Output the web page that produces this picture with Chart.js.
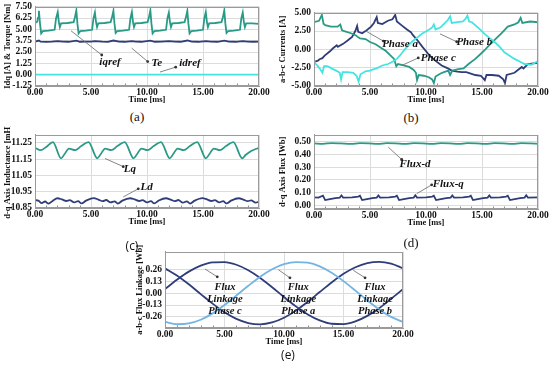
<!DOCTYPE html>
<html>
<head>
<meta charset="utf-8">
<script src="https://cdn.jsdelivr.net/npm/chart.js@4.4.1/dist/chart.umd.min.js"></script>
<style>
  body { margin: 0; background: #fff; }
  #wrap { position: relative; width: 550px; height: 370px; overflow: hidden; background: #fff; }
  #wrap canvas { position: absolute; }
  .cap { position: absolute; font: 13px "Liberation Serif", serif; color: #111; transform: translateX(-50%); white-space: nowrap; }
  .cap.sans { font: 12px "Open Sans", sans-serif; }
</style>
</head>
<body>
<div id="wrap">
  <canvas id="chA"></canvas>
  <canvas id="chB"></canvas>
  <canvas id="chC"></canvas>
  <canvas id="chD"></canvas>
  <canvas id="chE"></canvas>
  <div class="cap" style="left:137px;top:109px">(a)</div>
  <div class="cap" style="left:411px;top:110px">(b)</div>
  <div class="cap sans" style="left:132px;top:237px">(c)</div>
  <div class="cap" style="left:411px;top:235px">(d)</div>
  <div class="cap sans" style="left:288px;top:346px">(e)</div>
</div>
<script>
// axis ticks
const timeMajor = [0, 5, 10, 15, 20];
const timeMinor = [1, 2, 3, 4, 6, 7, 8, 9, 11, 12, 13, 14, 16, 17, 18, 19];
const ticksA = [-1.25, 0, 1.25, 2.5, 3.75, 5, 6.25, 7.5];
const ticksB = [-5, -2.5, 0, 2.5, 5];
const ticksC = [10.85, 10.95, 11.05, 11.15, 11.25];
const ticksD = [0, 0.1, 0.2, 0.3, 0.4, 0.5];
const ticksE = [-0.26, -0.13, 0, 0.13, 0.26];

// (a) torque and dq currents
const teT = [0.00,0.20,0.27,0.35,0.45,0.55,0.70,1.20,1.75,
  1.88,2.03,2.13,2.22,2.33,2.90,3.45,
  3.56,3.69,3.79,3.89,4.04,4.55,5.10,
  5.22,5.35,5.45,5.54,5.65,6.20,6.75,
  6.87,7.00,7.10,7.20,7.35,7.85,8.40,
  8.52,8.65,8.75,8.84,8.95,9.50,10.05,
  10.17,10.30,10.40,10.50,10.65,11.15,11.70,
  11.82,11.95,12.05,12.14,12.25,12.80,13.35,
  13.47,13.60,13.70,13.80,13.95,14.45,15.00,
  15.12,15.25,15.35,15.44,15.55,16.10,16.65,
  16.77,16.90,17.00,17.10,17.25,17.75,18.30,
  18.42,18.55,18.65,18.74,18.85,19.40,20.00];
const teV = [5.70,5.85,6.30,7.05,5.60,4.55,4.80,4.85,4.95,
  6.20,6.90,5.80,5.25,5.65,5.70,5.80,
  6.30,7.10,5.60,4.55,4.80,4.85,4.95,
  6.20,6.85,5.80,5.25,5.65,5.70,5.80,
  6.30,7.05,5.60,4.60,4.80,4.85,4.95,
  6.20,6.90,5.80,5.25,5.65,5.70,5.80,
  6.30,7.10,5.60,4.55,4.80,4.85,4.95,
  6.20,6.85,5.80,5.25,5.65,5.70,5.80,
  6.30,7.05,5.60,4.55,4.80,4.85,4.95,
  6.20,6.90,5.80,5.25,5.65,5.70,5.80,
  6.30,7.10,5.60,4.60,4.80,4.85,4.95,
  6.20,6.85,5.80,5.25,5.65,5.65,5.60];
const iqT = [0,0.35,0.5,1,1.5,2.03,2.5,3,3.69,4,4.5,5,5.35,6,6.5,7,7.5,8,8.65,9,
  9.5,10.3,10.7,11.3,11.95,12.5,13,13.6,14,14.6,15.25,15.7,16.3,16.9,17.3,17.9,18.55,19,19.5,20];
const iqV = [3.64,3.76,3.64,3.62,3.65,3.70,3.64,3.63,3.76,3.63,3.65,3.64,3.70,3.64,3.62,3.77,3.64,3.63,3.70,3.64,
  3.63,3.76,3.63,3.65,3.70,3.64,3.63,3.77,3.64,3.63,3.70,3.64,3.63,3.76,3.64,3.63,3.70,3.64,3.63,3.64];
const idT = [0, 5, 10, 15, 20];
const idV = [0, 0, 0, 0, 0];

// (b) phase currents
const paT = [0.00,0.35,0.50,0.75,0.95,1.40,1.70,2.03,2.13,2.60,3.00,3.40,3.69,3.85,3.95,4.30,4.70,5.10,5.35,5.60,
  5.70,6.10,6.60,7.00,7.25,7.40,7.80,8.30,8.65,8.80,9.20,9.70,10.30,10.50,10.80,11.40,11.95,12.30,12.80,13.20,
  13.60,14.00,14.40,14.90,15.25,15.40,15.90,16.50,16.90,17.05,17.20,17.90,18.55,18.70,19.10,19.60,20.00];
const paV = [-1.70,-1.55,-1.35,-1.20,-0.85,-0.30,0.15,0.55,0.35,0.75,1.20,1.70,2.50,3.20,2.40,2.20,2.60,3.10,3.60,4.40,
  3.60,3.45,3.90,4.10,4.70,3.80,3.30,2.70,2.35,2.00,1.30,0.30,-0.80,-1.10,-1.50,-2.20,-2.60,-2.90,-3.05,-3.10,
  -3.10,-3.30,-3.50,-3.60,-4.20,-3.50,-3.50,-3.60,-4.10,-4.60,-3.50,-3.20,-2.40,-2.60,-2.00,-1.90,-1.85];
const pbT = [0.00,0.10,0.35,0.55,0.75,0.90,1.20,1.70,2.10,2.30,2.42,2.55,3.00,3.50,3.80,3.98,4.15,4.60,5.00,5.35,
  5.60,6.10,6.60,6.90,7.40,7.70,8.00,8.40,8.80,9.20,9.70,10.30,10.55,10.70,10.85,11.30,11.70,11.95,12.15,12.30,
  12.80,13.30,13.55,13.70,13.85,14.10,14.70,15.30,15.80,16.20,16.60,17.00,17.50,17.90,18.40,18.80,19.40,20.00];
const pbV = [-1.40,-1.90,-2.30,-2.70,-3.20,-2.30,-2.30,-2.70,-3.00,-3.20,-4.10,-3.10,-3.10,-3.20,-3.60,-4.40,-3.40,-3.00,-2.90,-2.70,
  -2.60,-2.20,-2.00,-1.80,-1.30,-0.80,-0.20,0.50,1.10,1.60,2.20,2.70,3.00,3.40,2.70,3.00,3.60,4.00,4.50,3.60,
  3.70,3.80,4.20,4.60,3.80,3.70,2.90,2.00,1.40,0.90,0.30,-0.40,-0.90,-1.30,-1.70,-2.00,-2.10,-1.60];
const pcT = [0.00,0.45,0.70,0.85,1.00,1.50,2.10,2.35,2.50,2.70,3.30,3.75,3.90,4.10,4.60,5.00,5.50,6.00,6.40,6.80,
  7.15,7.35,7.50,8.00,8.50,8.90,9.10,9.20,9.35,9.80,10.25,10.55,10.70,10.85,11.30,11.60,12.00,12.15,12.35,12.90,
  13.35,13.80,14.40,14.90,15.30,15.80,16.20,16.75,17.05,17.30,17.90,18.25,18.45,18.60,19.30,20.00];
const pcV = [3.70,3.90,4.70,3.50,3.30,3.10,3.10,3.40,2.60,2.50,2.20,1.90,1.70,1.50,1.40,1.00,0.70,0.20,-0.20,-0.80,
  -1.30,-2.30,-2.00,-2.20,-2.40,-2.80,-3.20,-4.20,-3.50,-3.60,-3.80,-4.10,-4.60,-3.70,-3.30,-3.10,-2.90,-3.50,-2.90,-2.70,
  -2.60,-2.00,-1.30,-0.60,0.00,0.80,1.40,2.20,2.70,3.10,3.40,3.70,4.30,3.60,3.80,3.70];

// (c) inductances
const lqT = [0,0.5,1.0,1.6,2.33,2.63,3.03,3.58,4.13,4.78,5.56,5.86,6.26,6.81,7.36,8.01,8.80,9.10,9.50,10.05,
  10.60,11.25,12.03,12.33,12.73,13.28,13.83,14.48,15.26,15.56,15.96,16.51,17.06,17.71,18.50,18.80,19.30,20.00];
const lqV = [11.220,11.205,11.225,11.255,11.155,11.180,11.215,11.205,11.230,11.255,11.155,11.180,11.215,11.205,11.230,11.255,11.155,11.180,11.215,11.205,
  11.230,11.255,11.155,11.180,11.215,11.205,11.230,11.255,11.155,11.180,11.215,11.205,11.230,11.255,11.155,11.175,11.200,11.220];
const ldT = [0.00,0.30,0.60,0.90,1.20,1.60,2.00,2.40,2.80,3.10,3.50,3.85,4.15,4.55,5.25,5.65,6.05,6.35,6.75,7.10,
  7.40,7.80,8.50,8.90,9.30,9.60,10.00,10.35,10.65,11.05,11.70,12.10,12.50,12.80,13.20,13.55,13.85,14.25,14.95,15.35,
  15.75,16.05,16.45,16.80,17.10,17.50,18.20,18.60,19.00,19.30,19.70,20.00];
const ldV = [10.898,10.895,10.880,10.890,10.877,10.895,10.910,10.903,10.893,10.898,10.884,10.892,10.878,10.895,10.911,10.902,10.892,10.899,10.884,10.891,
  10.877,10.895,10.910,10.903,10.893,10.898,10.884,10.892,10.878,10.896,10.910,10.902,10.892,10.899,10.883,10.891,10.877,10.895,10.911,10.903,
  10.893,10.898,10.884,10.892,10.878,10.895,10.910,10.902,10.892,10.897,10.883,10.890];

// (d) dq flux
const fdT = [0,0.8,1.6,2.4,3.3,4.1,4.9,5.7,6.5,7.3,8.1,8.9,9.7,10.5,11.3,12.1,12.9,13.7,14.5,15.3,16.1,16.9,17.7,18.5,19.3,20];
const fdV = [0.487,0.483,0.489,0.486,0.482,0.488,0.486,0.482,0.488,0.486,0.482,0.488,0.486,0.482,0.488,0.486,0.482,0.488,0.486,0.482,0.488,0.486,0.482,0.488,0.486,0.483];
const fqT = [0.00,0.40,0.80,1.00,1.30,1.90,2.30,2.45,2.60,3.40,3.95,4.10,4.30,4.60,5.20,5.60,5.75,5.90,6.70,7.25,
  7.40,7.60,7.90,8.50,8.90,9.05,9.20,10.00,10.55,10.70,10.90,11.20,11.80,12.20,12.35,12.50,13.30,13.85,14.00,14.20,
  14.50,15.10,15.50,15.65,15.80,16.60,17.15,17.30,17.50,17.80,18.40,18.80,18.95,19.10,20.00];
const fqV = [0.062,0.060,0.075,0.040,0.045,0.055,0.060,0.076,0.060,0.062,0.068,0.074,0.040,0.045,0.055,0.060,0.077,0.060,0.062,0.068,
  0.074,0.040,0.045,0.055,0.060,0.078,0.060,0.062,0.068,0.074,0.040,0.045,0.055,0.060,0.076,0.060,0.062,0.068,0.074,0.040,
  0.045,0.055,0.060,0.077,0.060,0.062,0.068,0.074,0.040,0.045,0.055,0.060,0.078,0.060,0.062];

// (e) abc flux linkage
const flxT = [0,1,2,3,4,5,6,7,8,9,10,11,12,13,14,15,16,17,18,19,20];
const flxA = [-0.314,-0.339,-0.330,-0.290,-0.221,-0.130,-0.027,0.079,0.178,0.259,0.314,0.337,0.330,0.290,0.221,0.130,0.027,-0.079,-0.178,-0.259,-0.314];
const flxB = [0.269,0.191,0.095,-0.011,-0.115,-0.209,-0.281,-0.326,-0.340,-0.320,-0.269,-0.191,-0.095,0.011,0.115,0.209,0.281,0.326,0.340,0.320,0.269];
const flxC = [0.043,0.145,0.233,0.298,0.334,0.337,0.308,0.248,0.164,0.064,-0.043,-0.145,-0.233,-0.298,-0.334,-0.337,-0.308,-0.248,-0.164,-0.064,0.043];

const TEAL = '#2a9a86', NAVY = '#2f3d78', CYAN = '#45e4e2', LBLUE = '#74b4e2';
const tickFont = { family: '"Liberation Serif", serif', size: 9.5, weight: 'bold' };
const titleFont = { family: '"Liberation Serif", serif', size: 8.5, weight: 'bold' };

function pts(xs, ys) {
  return xs.map((t, i) => ({ x: t, y: ys[i] }));
}

function line(xs, ys, color, smooth) {
  return {
    data: pts(xs, ys), borderColor: color, borderWidth: 1.8,
    pointRadius: 0, fill: false,
    tension: smooth ? 0.4 : 0,
    cubicInterpolationMode: smooth ? 'monotone' : 'default'
  };
}

// labels with pointer lines, frame and minor ticks
function overlay(notes) {
  return {
    id: 'overlay',
    afterDatasetsDraw(chart) {
      const { ctx, chartArea: a, scales: { x, y } } = chart;
      ctx.save();
      ctx.strokeStyle = '#8c8c8c';
      ctx.lineWidth = 1;
      ctx.beginPath();
      timeMinor.forEach(t => {
        const px = Math.round(x.getPixelForValue(t)) + 0.5;
        ctx.moveTo(px, a.bottom);
        ctx.lineTo(px, a.bottom - 2.5);
      });
      ctx.stroke();
      ctx.strokeStyle = '#9a9a9a';
      ctx.strokeRect(Math.round(a.left) + 0.5, Math.round(a.top) + 0.5,
        Math.round(a.right) - Math.round(a.left) - 1, Math.round(a.bottom) - Math.round(a.top) - 1);

      ctx.textAlign = 'center';
      ctx.textBaseline = 'middle';
      notes.forEach(n => {
        const x1 = x.getPixelForValue(n.from[0]), y1 = y.getPixelForValue(n.from[1]);
        const x2 = x.getPixelForValue(n.to[0]), y2 = y.getPixelForValue(n.to[1]);
        ctx.strokeStyle = '#777';
        ctx.lineWidth = 0.9;
        ctx.beginPath();
        ctx.moveTo(x1, y1);
        ctx.lineTo(x2, y2);
        ctx.stroke();
        ctx.fillStyle = '#333';
        ctx.beginPath();
        ctx.arc(x2, y2, 1.4, 0, Math.PI * 2);
        ctx.fill();
        ctx.fillStyle = '#111';
        ctx.font = 'italic bold ' + (n.size || 11) + 'px "Liberation Serif", serif';
        const tx = x.getPixelForValue(n.at[0]), ty = y.getPixelForValue(n.at[1]);
        n.text.forEach((s, i) => ctx.fillText(s, tx, ty + i * 11.7));
      });
      ctx.restore();
    }
  };
}

function panel(id, box, yMin, yMax, yTicks, yTitle, datasets, notes) {
  const cv = document.getElementById(id);
  cv.width = box.w;
  cv.height = box.h;
  cv.style.left = box.left + 'px';
  cv.style.top = box.top + 'px';
  new Chart(cv, {
    type: 'line',
    data: { datasets: datasets },
    options: {
      responsive: false,
      animation: false,
      layout: { padding: { left: 0, top: box.padTop, right: box.padRight, bottom: 0 } },
      plugins: { legend: { display: false }, tooltip: { enabled: false } },
      scales: {
        x: {
          type: 'linear', min: 0, max: 20,
          afterBuildTicks: s => { s.ticks = timeMajor.map(v => ({ value: v })); },
          afterFit: s => { s.height = 19; },
          ticks: { font: tickFont, color: '#111', padding: 1, maxRotation: 0, autoSkip: false,
                   callback: v => Number(v).toFixed(2) },
          grid: { color: '#dcdcdc', drawTicks: false },
          border: { color: '#9a9a9a' },
          title: { display: true, text: 'Time [ms]', font: titleFont, color: '#111', padding: 0 }
        },
        y: {
          type: 'linear', min: yMin, max: yMax,
          afterBuildTicks: s => { s.ticks = yTicks.map(v => ({ value: v })); },
          afterFit: s => { s.width = box.yWidth; },
          ticks: { font: tickFont, color: '#111', padding: 3, autoSkip: false,
                   callback: v => Number(v).toFixed(2) },
          grid: { color: '#dcdcdc', drawTicks: false },
          border: { color: '#9a9a9a' },
          title: { display: true, text: yTitle, font: titleFont, color: '#111', padding: { top: 3, bottom: 0 } }
        }
      }
    },
    plugins: [overlay(notes)]
  });
}

panel('chA', { left: 0, top: -2, w: 275, h: 107, padTop: 7, padRight: 16, yWidth: 35 },
  -1.25, 7.5, ticksA, 'Idq [A] & Torque [Nm]',
  [line(idT, idV, CYAN), line(iqT, iqV, NAVY), line(teT, teV, TEAL)],
  [
    { from: [3.21, 4.85], to: [5.96, 2.17], at: [6.70, 1.34], text: ['iqref'] },
    { from: [8.63, 2.93], to: [10.06, 1.45], at: [10.87, 1.27], text: ['Te'] },
    { from: [11.16, 0.29], to: [12.56, 0.83], at: [13.84, 1.27], text: ['idref'] }
  ]);

panel('chB', { left: 275, top: 4, w: 275, h: 101, padTop: 7, padRight: 12, yWidth: 39 },
  -5, 5, ticksB, 'a-b-c Currents [A]',
  [line(pbT, pbV, CYAN), line(pcT, pcV, TEAL), line(paT, paV, NAVY)],
  [
    { from: [4.55, 2.56], to: [6.19, 1.13], at: [7.68, 0.77], text: ['Phase a'] },
    { from: [11.25, 2.11], to: [12.74, 1.04], at: [14.31, 1.04], text: ['Phase b'] },
    { from: [7.83, -2.2], to: [9.31, -1.17], at: [11.1, -1.17], text: ['Phase c'] }
  ]);

panel('chC', { left: 0, top: 126, w: 275, h: 101, padTop: 7, padRight: 16, yWidth: 35 },
  10.85, 11.30, ticksC, 'd-q Axis Inductance [mH]',
  [line(lqT, lqV, TEAL, true), line(ldT, ldV, NAVY, true)],
  [
    { from: [6.25, 11.154], to: [7.88, 11.104], at: [8.48, 11.088], text: ['Lq'] },
    { from: [7.88, 10.918], to: [9.22, 10.968], at: [9.97, 10.978], text: ['Ld'] }
  ]);

panel('chD', { left: 275, top: 126, w: 275, h: 102, padTop: 7, padRight: 12, yWidth: 39 },
  -0.03, 0.555, ticksD, 'd-q Axis Flux [Wb]',
  [line(fdT, fdV, TEAL, true), line(fqT, fqV, NAVY)],
  [
    { from: [6.63, 0.457], to: [7.83, 0.360], at: [9.02, 0.322], text: ['Flux-d'] },
    { from: [9.17, 0.091], to: [10.51, 0.160], at: [11.99, 0.168], text: ['Flux-q'] }
  ]);

panel('chE', { left: 132, top: 243, w: 287, h: 104, padTop: 7, padRight: 16, yWidth: 33 },
  -0.38, 0.45, ticksE, 'a-b-c Flux Linkage [Wb]',
  [line(flxT, flxA, LBLUE, true), line(flxT, flxB, NAVY, true), line(flxT, flxC, NAVY, true)],
  [
    { from: [3.36, 0.262], to: [4.39, 0.177], at: [5.04, 0.06], text: ['Flux', 'Linkage', 'Phase c'], size: 10.5 },
    { from: [9.52, 0.255], to: [10.5, 0.166], at: [11.2, 0.06], text: ['Flux', 'Linkage', 'Phase a'], size: 10.5 },
    { from: [15.82, 0.248], to: [16.81, 0.166], at: [17.65, 0.06], text: ['Flux', 'Linkage', 'Phase b'], size: 10.5 }
  ]);
</script>
</body>
</html>
